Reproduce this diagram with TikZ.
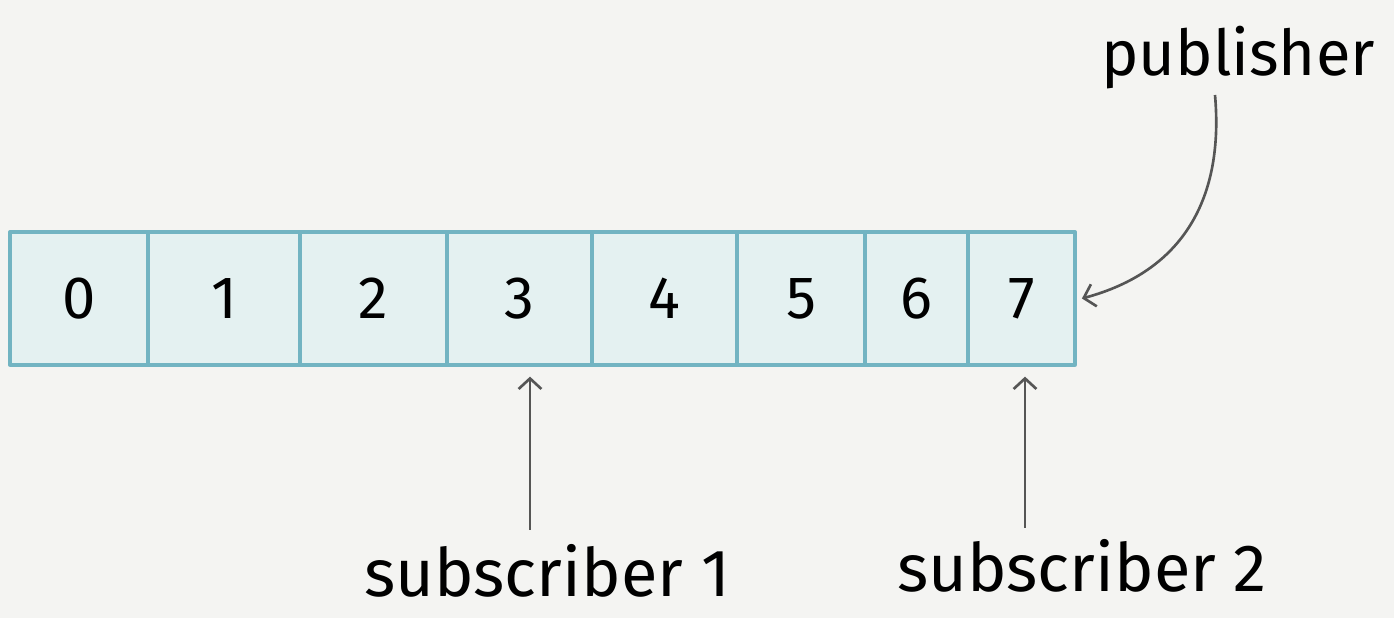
\documentclass[tikz,border=0pt]{standalone}
\usepackage{fontspec}
\setmainfont{Fira Sans}
\usepackage{tikz}
\usetikzlibrary{arrows.meta, positioning}
\definecolor{paper}{HTML}{F4F4F2}
\definecolor{cellfill}{HTML}{E4F1F1}
\definecolor{cellline}{HTML}{72B4C2}
\definecolor{inkgray}{HTML}{555555}

\begin{document}
\begin{tikzpicture}[line join=round,
    cell/.style={draw=cellline, fill=cellfill, line width=1.9pt, minimum height=2.66cm,
                 inner sep=0pt, font=\fontsize{34}{34}\selectfont},
    pointer/.style={draw=inkgray, line width=1.5pt, -{Straight Barb[length=6pt, width=13pt]}},
    label/.style={font=\fontsize{38}{38}\selectfont, inner sep=0pt}]

    % paper background
    \fill[paper] (0,0) rectangle (27.88,12.36);
    \useasboundingbox (0,0) rectangle (27.88,12.36);

    % ring buffer slots
    \foreach \n/\x/\w in {0/1.58/2.76, 1/4.48/3.04, 2/7.47/2.94, 3/10.39/2.90,
                          4/13.29/2.90, 5/16.02/2.56, 6/18.33/2.06, 7/20.43/2.14}
        \node[cell, minimum width=\w cm] (c\n) at (\x,6.39) {\n};

    % labels
    \node[label, font=\fontsize{36}{36}\selectfont] (pub) at (24.76,11.2) {publisher};
    \node[label] (sub1) at (10.94,0.95) {subscriber 1};
    \node[label] (sub2) at (21.64,1.05) {subscriber 2};

    % free ends of the arrows
    \coordinate (p) at (24.3,10.46);
    \coordinate (s1) at (10.6,1.76);
    \coordinate (s2) at (20.5,1.8);

    % arrows
    \draw[pointer] (p) to[out=-85, in=15, looseness=1.1] ([xshift=3pt]c7.east);
    \draw[pointer, shorten >=0.2cm] (s1) -- (s1 |- c3.south);
    \draw[pointer, shorten >=0.2cm] (s2) -- (s2 |- c7.south);

\end{tikzpicture}
\end{document}
